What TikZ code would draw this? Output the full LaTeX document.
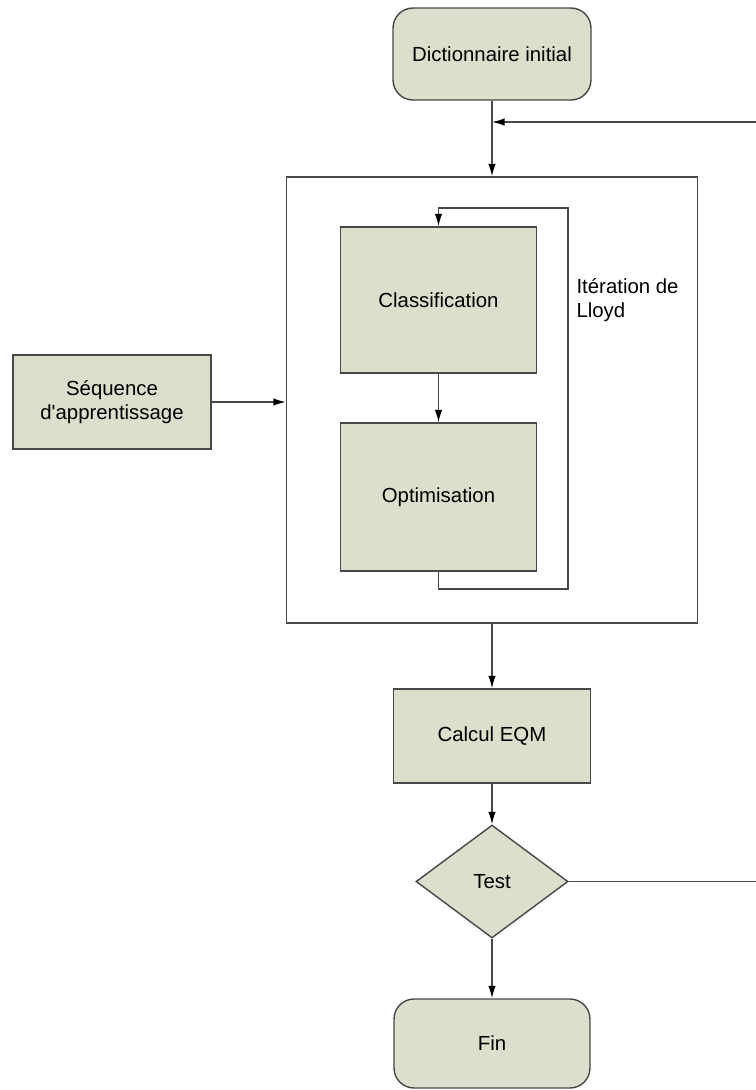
\documentclass[tikz,border=0pt]{standalone}
\usepackage{fontspec}
\setmainfont{Liberation Sans}
\usetikzlibrary{shapes.geometric}
\usetikzlibrary{arrows.meta}

\definecolor{boxfill}{RGB}{219,223,203}
\definecolor{edgegray}{RGB}{72,72,72}

\begin{document}
\begin{tikzpicture}[x=0.02cm, y=-0.02cm, line width=0.8pt, font=\fontsize{11.6}{14}\selectfont,
    main/.style = {draw=edgegray, fill=boxfill, align=center, inner sep=2pt},
    term/.style = {main, rounded corners=0.4cm},
    test/.style = {main, diamond, minimum width=3.04cm, minimum height=2.26cm, inner sep=0pt},
    link/.style = {draw=edgegray, -{Latex[length=0.25cm, width=0.15cm, color=black]}}]
    \useasboundingbox (0,0) rectangle (755,1090);
    % blocs
    \node[term, minimum width=3.96cm, minimum height=1.84cm] (dict) at (492,54) {Dictionnaire initial};
    \node[draw=edgegray, minimum width=8.22cm, minimum height=8.92cm] (lloydbox) at (492,400) {};
    \node[main, minimum width=3.92cm, minimum height=2.92cm] (classif) at (438.5,300) {Classification};
    \node[main, minimum width=3.92cm, minimum height=2.96cm] (optim) at (438.5,497) {Optimisation};
    \node[anchor=west, align=left] (lloyd) at (570,300) {Itération de\\Lloyd};
    \node[main, minimum width=3.96cm, minimum height=1.88cm] (seq) at (112,402) {Séquence\\d\textquotesingle apprentissage};
    \node[main, minimum width=3.94cm, minimum height=1.88cm] (eqm) at (492,736) {Calcul EQM};
    \node[test] (test) at (492,881.5) {Test};
    \node[term, minimum width=3.92cm, minimum height=1.78cm] (fin) at (492,1043.5) {Fin};
    % points de passage
    \coordinate (join) at (492,122);
    \coordinate (backbot) at (760,881.5);
    \coordinate (backtop) at (760,122);
    \coordinate (loopbl) at (438.5,589);
    \coordinate (loopbr) at (568,589);
    \coordinate (looptr) at (568,208);
    \coordinate (looptl) at (438.5,208);
    % liaisons
    \draw[link] (dict) -- (lloydbox);
    \draw[link] (test.east) -- (backbot) -- (backtop) -- (join);
    \draw[link] (classif) -- (optim);
    \draw[link] (optim.south) -- (loopbl) -- (loopbr) -- (looptr) -- (looptl) -- (classif.north);
    \draw[link] (seq.east) -- (seq.east -| lloydbox.west);
    \draw[link] (lloydbox) -- (eqm);
    \draw[link] (eqm) -- (test);
    \draw[link] (test) -- (fin);
\end{tikzpicture}
\end{document}
